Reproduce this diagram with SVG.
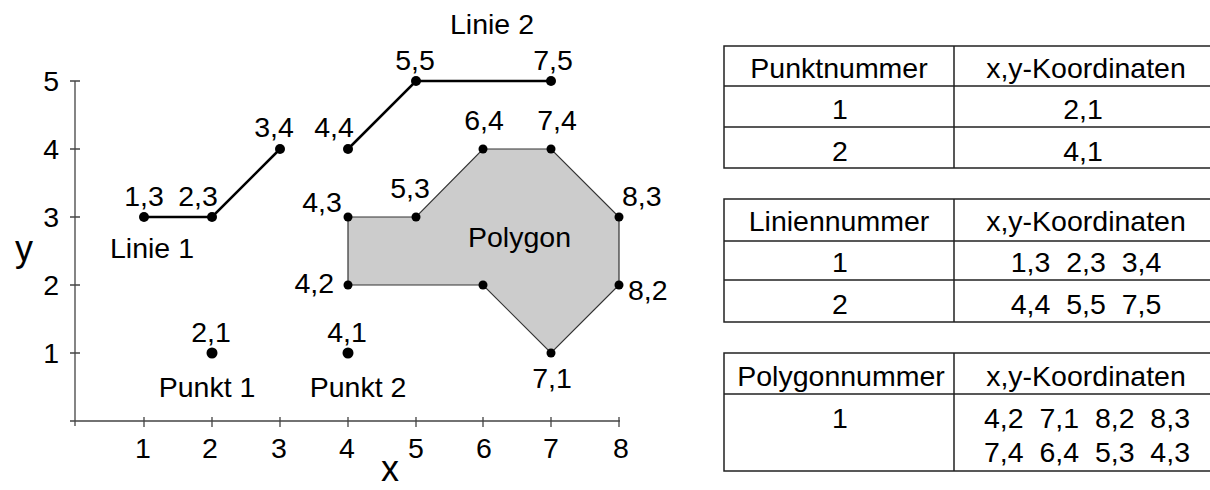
<svg xmlns="http://www.w3.org/2000/svg" width="1210" height="490" viewBox="0 0 1210 490">
<style>
text{font-family:"Liberation Sans",Arial,sans-serif;font-size:28.5px;fill:#000}
.m{text-anchor:middle}
.e{text-anchor:end}
.big{font-size:36px}
.ax{stroke:#444;stroke-width:1.3;fill:none}
.ln{stroke:#000;stroke-width:2.5;fill:none}
.tb{stroke:#222;stroke-width:1.5;fill:none}
.pre{white-space:pre}
</style>
<rect width="1210" height="490" fill="#fff"/>
<g id="axes">
<path class="ax" d="M75 81V426M70 421H620"/>
<path class="ax" d="M70 81H80M70 149H80M70 217H80M70 285H80M70 353H80"/>
<path class="ax" d="M144 417V427M212 417V427M280 417V427M348 417V427M416 417V427M483 417V427M551 417V427M619 417V427"/>
<text class="e" x="59" y="91">5</text>
<text class="e" x="59" y="159">4</text>
<text class="e" x="59" y="227">3</text>
<text class="e" x="59" y="295">2</text>
<text class="e" x="59" y="363">1</text>
<text class="m" x="143" y="458">1</text>
<text class="m" x="210" y="458">2</text>
<text class="m" x="279" y="458">3</text>
<text class="m" x="347" y="458">4</text>
<text class="m" x="416" y="458">5</text>
<text class="m" x="484" y="458">6</text>
<text class="m" x="551" y="458">7</text>
<text class="m" x="621" y="458">8</text>
<text class="m big" x="390" y="481">x</text>
<text class="m big" x="24" y="261">y</text>
</g>
<g id="polygon1">
<polygon points="348,217 416,217 483,149 551,149 619,217 619,285 551,353 483,285 348,285" fill="#cccccc" stroke="#333" stroke-width="1.2"/>
<g fill="#000">
<circle cx="348" cy="217" r="4.5"/><circle cx="416" cy="217" r="4.5"/><circle cx="483" cy="149" r="4.5"/><circle cx="551" cy="149" r="4.5"/><circle cx="619" cy="217" r="4.5"/><circle cx="619" cy="285" r="4.5"/><circle cx="551" cy="353" r="4.5"/><circle cx="483" cy="285" r="4.5"/><circle cx="348" cy="285" r="4.5"/>
</g>
<text x="468" y="247">Polygon</text>
<text class="m" x="322" y="212">4,3</text>
<text class="m" x="410" y="198">5,3</text>
<text class="m" x="484" y="130">6,4</text>
<text class="m" x="557" y="130">7,4</text>
<text x="622" y="206">8,3</text>
<text x="628" y="300">8,2</text>
<text class="e" x="334" y="293">4,2</text>
<text class="m" x="552" y="388">7,1</text>
</g>
<g id="connectors">
<polyline class="ln" points="144,217 212,217 280,149"/>
<polyline class="ln" points="348,149 416,81 551,81"/>
</g>
<g id="line1">
<g fill="#000"><circle cx="144" cy="217" r="5"/><circle cx="212" cy="217" r="5"/><circle cx="280" cy="149" r="5"/></g>
<text class="m" x="144" y="206">1,3</text>
<text class="m" x="198" y="206">2,3</text>
<text class="m" x="274" y="137">3,4</text>
<text x="110" y="258">Linie 1</text>
</g>
<g id="line2">
<g fill="#000"><circle cx="348" cy="149" r="5"/><circle cx="416" cy="81" r="5"/><circle cx="551" cy="81" r="5"/></g>
<text class="m" x="334" y="137">4,4</text>
<text class="m" x="415" y="70">5,5</text>
<text class="m" x="553" y="70">7,5</text>
<text class="m" x="492" y="34">Linie 2</text>
</g>
<g id="point1">
<circle cx="212" cy="353" r="5.5" fill="#000"/>
<text class="m" x="211" y="342">2,1</text>
<text class="m" x="207" y="397">Punkt 1</text>
</g>
<g id="point2">
<circle cx="348" cy="353" r="5.5" fill="#000"/>
<text class="m" x="347" y="342">4,1</text>
<text class="m" x="358" y="397">Punkt 2</text>
</g>
<g id="table-punkte">
<path class="tb" d="M1210 46H724V168H1210M724 86H1210M724 127H1210M954 46V168"/>
<text class="m" x="839" y="78">Punktnummer</text>
<text class="m" x="1086" y="78">x,y-Koordinaten</text>
<text class="m" x="840" y="119">1</text>
<text class="m" x="1083" y="119">2,1</text>
<text class="m" x="840" y="161">2</text>
<text class="m" x="1083" y="161">4,1</text>
</g>
<g id="table-linien">
<path class="tb" d="M1210 199H724V322H1210M724 241H1210M724 280H1210M954 199V322"/>
<text class="m" x="839" y="231">Liniennummer</text>
<text class="m" x="1086" y="231">x,y-Koordinaten</text>
<text class="m" x="840" y="272">1</text>
<text class="m pre" x="1086" y="272" xml:space="preserve">1,3  2,3  3,4</text>
<text class="m" x="840" y="314">2</text>
<text class="m pre" x="1086" y="314" xml:space="preserve">4,4  5,5  7,5</text>
</g>
<g id="table-polygone">
<path class="tb" d="M1210 353H724V471H1210M724 394H1210M954 353V471"/>
<text class="m" x="841" y="386">Polygonnummer</text>
<text class="m" x="1086" y="386">x,y-Koordinaten</text>
<text class="m" x="840" y="428">1</text>
<text class="m pre" x="1087" y="428" xml:space="preserve">4,2  7,1  8,2  8,3</text>
<text class="m pre" x="1087" y="462" xml:space="preserve">7,4  6,4  5,3  4,3</text>
</g>
</svg>
